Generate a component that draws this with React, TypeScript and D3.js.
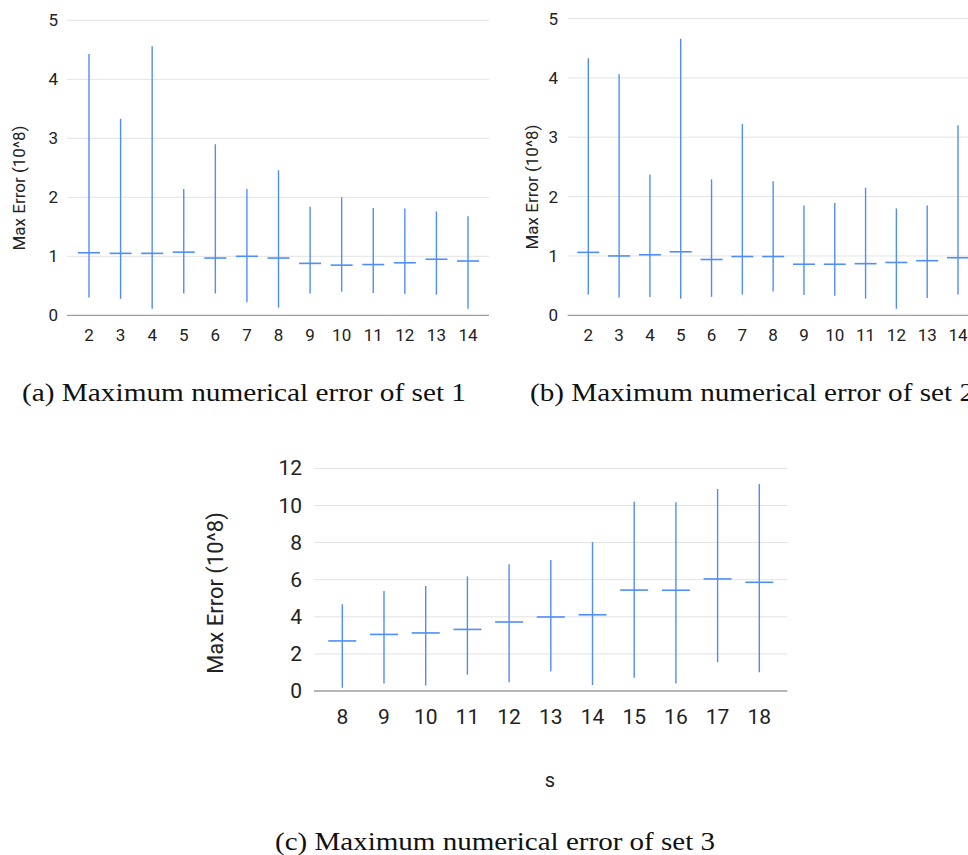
import * as d3 from 'd3';

// Set 1
const setOneS = ['2', '3', '4', '5', '6', '7', '8', '9', '10', '11', '12', '13', '14'];
const setOneHigh = [4.43, 3.33, 4.56, 2.14, 2.9, 2.14, 2.46, 1.84, 2.0, 1.82, 1.81, 1.76, 1.68];
const setOneLow = [0.3, 0.28, 0.11, 0.37, 0.37, 0.22, 0.13, 0.37, 0.4, 0.38, 0.36, 0.35, 0.11];
const setOneMid = [1.06, 1.05, 1.05, 1.07, 0.97, 1.0, 0.97, 0.88, 0.85, 0.86, 0.89, 0.95, 0.92];

// Set 2
const setTwoS = ['2', '3', '4', '5', '6', '7', '8', '9', '10', '11', '12', '13', '14'];
const setTwoHigh = [4.33, 4.06, 2.37, 4.66, 2.29, 3.22, 2.26, 1.85, 1.89, 2.15, 1.8, 1.85, 3.2];
const setTwoLow = [0.35, 0.3, 0.31, 0.28, 0.31, 0.35, 0.4, 0.34, 0.33, 0.28, 0.11, 0.29, 0.35];
const setTwoMid = [1.06, 1.0, 1.02, 1.07, 0.94, 0.99, 0.99, 0.86, 0.86, 0.87, 0.89, 0.92, 0.97];

// Set 3
const setThreeS = ['8', '9', '10', '11', '12', '13', '14', '15', '16', '17', '18'];
const setThreeHigh = [4.67, 5.39, 5.66, 6.18, 6.83, 7.06, 8.03, 10.2, 10.17, 10.89, 11.16];
const setThreeLow = [0.18, 0.41, 0.29, 0.88, 0.47, 1.06, 0.32, 0.72, 0.41, 1.56, 1.01];
const setThreeMid = [2.7, 3.05, 3.13, 3.32, 3.72, 3.99, 4.11, 5.44, 5.43, 6.04, 5.86];

const smallTicks = [0, 1, 2, 3, 4, 5];
const bigTicks = [0, 2, 4, 6, 8, 10, 12];

const blue = '#4f8ef5';
const grid = '#e3e3e3';
const baseLine = '#9e9e9e';
const sans = 'Roboto, Arial, sans-serif';
const serif = '"Liberation Serif", "DejaVu Serif", serif';

type PanelProps = {
  cats: string[];
  high: number[];
  low: number[];
  mid: number[];
  ticks: number[];
  xRange: [number, number];
  plotX: [number, number];
  yRange: [number, number];
  labelRight: number;
  xLabelY: number;
  yTitle: [number, number];
  fontSize: number;
  titleSize: number;
  half: number;
};

const Panel = ({
  cats, high, low, mid, ticks, xRange, plotX, yRange, labelRight, xLabelY, yTitle, fontSize, titleSize, half,
}: PanelProps) => {
  const x = d3.scalePoint<string>().domain(cats).range(xRange);
  const y = d3.scaleLinear().domain([ticks[0], ticks[ticks.length - 1]]).range(yRange);

  return (
    <g>
      {ticks.slice(1).map((t) => (
        <line key={t} x1={plotX[0]} x2={plotX[1]} y1={y(t)} y2={y(t)} stroke={grid} strokeWidth={1} />
      ))}
      <line x1={plotX[0]} x2={plotX[1]} y1={y(0)} y2={y(0)} stroke={baseLine} strokeWidth={1.3} />
      {ticks.map((t) => (
        <text key={t} x={labelRight} y={y(t)} textAnchor="end" dominantBaseline="central"
          fontFamily={sans} fontSize={fontSize} fill="#222">{t}</text>
      ))}
      {cats.map((c) => (
        <text key={c} x={x(c)} y={xLabelY} textAnchor="middle" dominantBaseline="central"
          fontFamily={sans} fontSize={fontSize} fill="#222">{c}</text>
      ))}
      <text transform={`translate(${yTitle[0]},${yTitle[1]}) rotate(-90)`} textAnchor="middle"
        dominantBaseline="central" fontFamily={sans} fontSize={titleSize} fill="#222">Max Error (10^8)</text>
      {cats.map((c, i) => (
        <g key={c}>
          <line x1={x(c)} x2={x(c)} y1={y(low[i])} y2={y(high[i])} stroke={blue} strokeWidth={1.4} />
          <line x1={x(c)! - half} x2={x(c)! + half} y1={y(mid[i])} y2={y(mid[i])} stroke={blue} strokeWidth={1.6} />
        </g>
      ))}
    </g>
  );
};

export default function App() {
  return (
    <svg width={968} height={855} style={{ position: 'absolute', left: 0, top: 0, background: '#fff' }}>
      <Panel cats={setOneS} high={setOneHigh} low={setOneLow} mid={setOneMid} ticks={smallTicks}
        xRange={[89, 468]} plotX={[67, 489]} yRange={[315.3, 20.3]} labelRight={58} xLabelY={335}
        yTitle={[19, 188]} fontSize={17} titleSize={17} half={11} />
      <Panel cats={setTwoS} high={setTwoHigh} low={setTwoLow} mid={setTwoMid} ticks={smallTicks}
        xRange={[588.3, 958]} plotX={[567.7, 990]} yRange={[315.3, 18.5]} labelRight={558} xLabelY={335}
        yTitle={[532, 187]} fontSize={17} titleSize={17} half={11} />
      <Panel cats={setThreeS} high={setThreeHigh} low={setThreeLow} mid={setThreeMid} ticks={bigTicks}
        xRange={[342.3, 759.3]} plotX={[314, 787.3]} yRange={[691, 468.4]} labelRight={302} xLabelY={717}
        yTitle={[215, 593]} fontSize={21} titleSize={22} half={14} />
      <text x={550} y={780} textAnchor="middle" dominantBaseline="central" fontFamily={sans} fontSize={20} fill="#222">s</text>
      <text x={22} y={401} fontFamily={serif} fontSize={25} fill="#111" textLength={444} lengthAdjust="spacingAndGlyphs">(a) Maximum numerical error of set 1</text>
      <text x={530} y={401} fontFamily={serif} fontSize={25} fill="#111" textLength={444} lengthAdjust="spacingAndGlyphs">(b) Maximum numerical error of set 2</text>
      <text x={275} y={850} fontFamily={serif} fontSize={25} fill="#111" textLength={440} lengthAdjust="spacingAndGlyphs">(c) Maximum numerical error of set 3</text>
    </svg>
  );
}
